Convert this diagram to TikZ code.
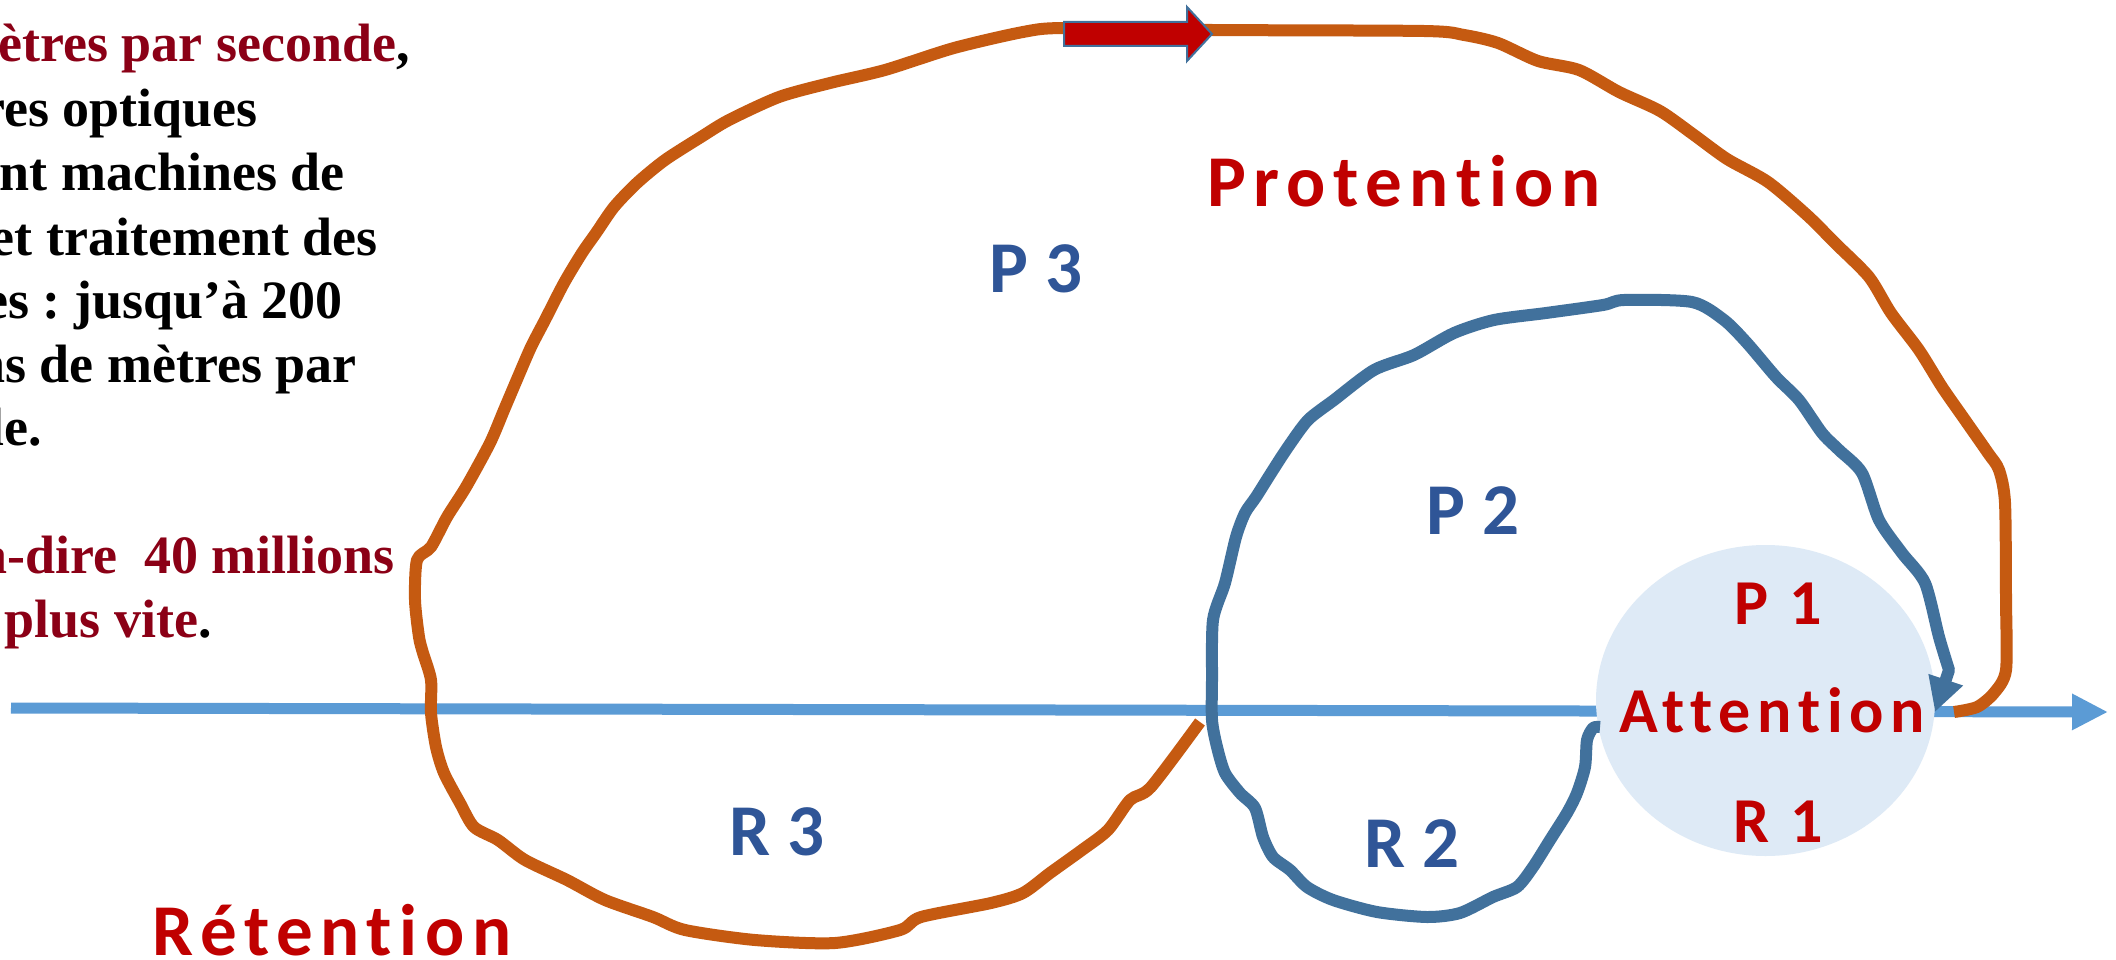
\documentclass[tikz,border=0pt]{standalone}
\usepackage{fontspec}
\usetikzlibrary{arrows.meta,shapes.geometric}
\newfontfamily\lblfont{Carlito}[LetterSpace=10.5,Ligatures=NoCommon]
\newfontfamily\lblplain{Carlito}[Ligatures=NoCommon]
\newfontfamily\tnr{Liberation Serif}
\frenchspacing
\definecolor{orangeC}{RGB}{197,90,17}
\definecolor{loopblue}{RGB}{65,113,156}
\definecolor{timeblue}{RGB}{91,155,213}
\definecolor{ellfill}{RGB}{222,234,246}
\definecolor{redlbl}{RGB}{192,0,0}
\definecolor{bluelbl}{RGB}{47,85,151}
\definecolor{darkred}{RGB}{139,0,22}
\tikzset{
  orangeline/.style={draw=orangeC,line width=12pt,line join=round,line cap=butt},
  loopline/.style={draw=loopblue,line width=12pt,line join=round,line cap=butt},
  timeline/.style={draw=timeblue,line width=11pt},
  redtext/.style={text=redlbl,inner sep=0pt,anchor=base,font=\lblfont\bfseries\fontsize{73}{80}\selectfont},
  redsmall/.style={text=redlbl,inner sep=0pt,anchor=base,font=\lblfont\bfseries\fontsize{64}{70}\selectfont},
  bluetext/.style={text=bluelbl,inner sep=0pt,anchor=base,font=\lblplain\bfseries\fontsize{73}{80}\selectfont},
  lefttext/.style={inner sep=0pt,anchor=base east,font=\tnr\bfseries\fontsize{54}{64}\selectfont},
}
\begin{document}
\begin{tikzpicture}[x=1pt,y=-1pt]
\useasboundingbox (0,0) rectangle (2116,960);
\fill[white] (0,0) rectangle (2116,960);

% left text (cut by the left border, as in the reference)
\begin{scope}
\clip (0,0) rectangle (2116,960);
\node[lefttext] (t1) at (410,62) {\textcolor{darkred}{ètres par seconde},};
\node[lefttext] (t2) at (258,127) {res optiques};
\node[lefttext] (t3) at (345,190) {ant machines de};
\node[lefttext] (t4) at (378,255) {et traitement des};
\node[lefttext] (t5) at (343,318) {es : jusqu’à 200};
\node[lefttext] (t6) at (357,382) {ns de mètres par};
\node[lefttext] (t7) at (42,445) {le.};
\node[lefttext,text=darkred] (t8) at (395,573) {à-dire\ \ 40 millions};
\node[lefttext] (t9) at (212,637) {\textcolor{darkred}{plus vite}.};
\end{scope}

% time line
\coordinate (tl0) at (11,708);
\coordinate (tl1) at (2108,712);
\draw[timeline,-{Triangle[length=36pt,width=34pt]}] (tl0) -- (tl1);

% attention ellipse
\node[ellipse,fill=ellfill,minimum width=339pt,minimum height=311pt,inner sep=0pt] (att) at (1765.5,700.5) {};

% orange loop
\coordinate (o0) at (1200,722);
\coordinate (o1) at (1954,712);
\draw[orangeline] plot[smooth,tension=0.45] coordinates {
(1200,722) (1151,787) (1130,800) (1108,830) (1082,850) (1050,873) (1023,893) (991,903)
(921,917) (900,930) (835,943) (755,940) (685,930) (653,917) (605,900) (567,880)
(525,860) (498,840) (474,827) (460,803) (444,773) (436,747) (431,713) (431,680)
(423,653) (419,637) (415,600) (417,560) (431,547) (447,517) (466,487) (490,443)
(504,410) (518,377) (531,347) (545,320) (564,283) (582,253) (596,233) (614,207)
(637,183) (665,160) (701,137) (729,120) (779,97) (830,83) (885,70) (954,48)
(1023,32) (1064,28) (1212,30) (1424,31) (1464,35) (1498,43) (1538,61) (1579,70)
(1619,92) (1660,111) (1694,135) (1727,159) (1768,182) (1808,216) (1835,243) (1869,277)
(1891,313) (1919,350) (1942,387) (1965,420) (1988,453) (1999,470) (2005,503) (2006,600)
(2006,670) (1994,693) (1977,707) (1954,712)};

% red block arrow on top of the orange loop
\draw[fill=redlbl,draw=loopblue,line width=2pt,line join=miter]
  (1064,22) -- (1187,22) -- (1187,7) -- (1212,34) -- (1187,61) -- (1187,46) -- (1064,46) -- cycle;

% blue loop
\coordinate (b0) at (1600,727);
\coordinate (b1) at (1935,712);
\draw[loopline,-{Triangle[length=34pt,width=34pt]}] plot[smooth,tension=0.45] coordinates {
(1600,727) (1593,728) (1587,740) (1585,767) (1577,793) (1567,813) (1550,840) (1533,867)
(1517,887) (1493,897) (1460,913) (1427,917) (1377,912) (1333,900) (1307,887) (1290,870)
(1273,857) (1263,837) (1255,808) (1240,793) (1225,773) (1217,747) (1212,720) (1212,680)
(1213,620) (1225,583) (1236,537) (1245,513) (1256,497) (1273,470) (1288,447) (1308,420)
(1334,400) (1374,370) (1414,355) (1454,333) (1494,320) (1546,313) (1603,305) (1624,300)
(1692,302) (1724,320) (1747,343) (1776,377) (1799,400) (1822,433) (1839,450) (1862,473)
(1879,520) (1902,553) (1925,583) (1939,637) (1949,670)} -- (b1);

% labels
\node[redtext] (prot) at (1404,207) {Protention};
\node[redtext] (ret) at (332,955) {Rétention};
\node[redsmall] (p1) at (1778,624) {P 1};
\node[redsmall] (attn) at (1772,732) {Attention};
\node[redsmall] (r1) at (1778,842) {R 1};
\node[bluetext] (p3) at (1036,292) {P 3};
\node[bluetext] (p2) at (1473,534) {P 2};
\node[bluetext] (r2) at (1412,867) {R 2};
\node[bluetext] (r3) at (777,855) {R 3};
\end{tikzpicture}
\end{document}
